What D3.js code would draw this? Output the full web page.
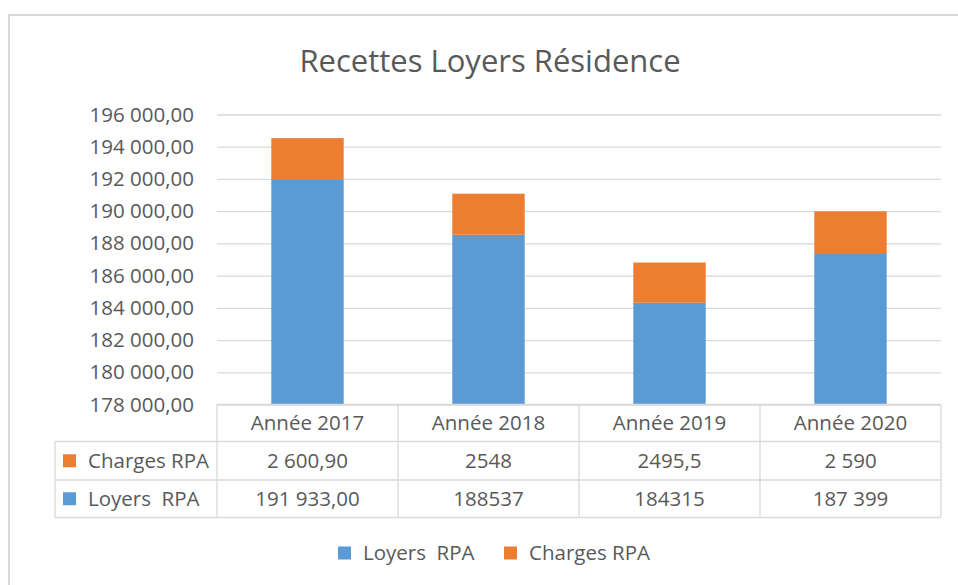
<!DOCTYPE html>
<html>
<head>
<meta charset="utf-8">
<script src="https://cdn.jsdelivr.net/npm/d3@7"></script>
<style>
  body { margin: 0; background: #fff; }
  text { font-family: "Open Sans", Calibri, sans-serif; fill: #595959; }
</style>
</head>
<body>
<div id="chart"></div>
<script>
// data
var categories = ['Année 2017', 'Année 2018', 'Année 2019', 'Année 2020'];
var loyers = [191933, 188537, 184315, 187399];
var charges = [2600.9, 2548, 2495.5, 2590];
var loyersLabels = ['191 933,00', '188537', '184315', '187 399'];
var chargesLabels = ['2 600,90', '2548', '2495,5', '2 590'];
var yTicks = [178000, 180000, 182000, 184000, 186000, 188000, 190000, 192000, 194000, 196000];
var seriesNames = ['Loyers  RPA', 'Charges RPA'];
var colors = ['#5B9BD5', '#ED7D31'];

var W = 958, H = 585;
var fs = '20.5px';
var svg = d3.select('#chart').append('svg')
  .attr('width', W).attr('height', H);

// outer frame (cropped chart area)
svg.append('path')
  .attr('d', 'M9,' + H + 'V15H' + W)
  .attr('fill', 'none').attr('stroke', '#d9d9d9').attr('stroke-width', 2);

svg.append('text')
  .attr('x', 490).attr('y', 72)
  .attr('text-anchor', 'middle')
  .style('font-size', '31px')
  .text('Recettes Loyers Résidence');

var x = d3.scaleBand().domain(categories).range([217, 941]).padding(0);
var y = d3.scaleLinear().domain([178000, 196000]).range([404.5, 114.5]);
var barW = x.bandwidth() * 0.4;

// y axis: gridlines + labels
var yAxis = d3.axisLeft(y).tickValues(yTicks)
  .tickSize(-(941 - 217))
  .tickPadding(23)
  .tickFormat(function(d) { return d3.format(',.2f')(d).replace(/,/g, ' ').replace('.', ','); });

var gy = svg.append('g').attr('transform', 'translate(217,0)').call(yAxis);
gy.select('.domain').remove();
gy.selectAll('.tick line').attr('stroke', '#d9d9d9').attr('stroke-width', 1.3);
gy.selectAll('.tick text').style('font-size', fs).attr('fill', '#595959');

// stacked bars
var stackData = categories.map(function(c, i) { return {cat: c, loyers: loyers[i], charges: charges[i]}; });
var stack = d3.stack().keys(['loyers', 'charges'])(stackData);

svg.append('g').selectAll('g').data(stack).enter()
  .append('g').attr('fill', function(d, i) { return colors[i]; })
  .selectAll('rect').data(function(d) { return d; }).enter()
  .append('rect')
  .attr('x', function(d) { return x(d.data.cat) + (x.bandwidth() - barW) / 2; })
  .attr('width', barW)
  .attr('y', function(d) { return y(d[1]); })
  .attr('height', function(d) { return y(Math.max(d[0], 178000)) - y(d[1]); });

// data table
var rowTop = [404.5, 441.5, 480], rowBot = 517.5, tableLeft = 55;
var grid = svg.append('g').attr('stroke', '#d9d9d9').attr('stroke-width', 1.3).attr('fill', 'none');
grid.append('line').attr('x1', 217).attr('x2', 941).attr('y1', rowTop[0]).attr('y2', rowTop[0]);
[rowTop[1], rowTop[2], rowBot].forEach(function(yy) {
  grid.append('line').attr('x1', tableLeft).attr('x2', 941).attr('y1', yy).attr('y2', yy);
});
grid.append('line').attr('x1', tableLeft).attr('x2', tableLeft).attr('y1', rowTop[1]).attr('y2', rowBot);
x.domain().forEach(function(c) {
  grid.append('line').attr('x1', x(c)).attr('x2', x(c)).attr('y1', rowTop[0]).attr('y2', rowBot);
});
grid.append('line').attr('x1', 941).attr('x2', 941).attr('y1', rowTop[0]).attr('y2', rowBot);

var mid = function(a, b) { return (a + b) / 2; };
svg.append('g').selectAll('text').data(categories).enter()
  .append('text')
  .attr('x', function(d) { return x(d) + x.bandwidth() / 2; })
  .attr('y', mid(rowTop[0], rowTop[1]) + 7)
  .attr('text-anchor', 'middle').style('font-size', fs)
  .text(function(d) { return d; });

var rows = [
  {name: seriesNames[1], color: colors[1], labels: chargesLabels, top: rowTop[1], bot: rowTop[2]},
  {name: seriesNames[0], color: colors[0], labels: loyersLabels, top: rowTop[2], bot: rowBot}
];
rows.forEach(function(r) {
  var cy = mid(r.top, r.bot);
  svg.append('rect').attr('x', 63).attr('y', cy - 6.5).attr('width', 13).attr('height', 13).attr('fill', r.color);
  svg.append('text').attr('x', 88).attr('y', cy + 7)
    .style('white-space', 'pre').style('font-size', fs)
    .text(r.name);
  svg.append('g').selectAll('text').data(r.labels).enter()
    .append('text')
    .attr('x', function(d, i) { return x(categories[i]) + x.bandwidth() / 2; })
    .attr('y', cy + 7)
    .attr('text-anchor', 'middle').style('font-size', fs)
    .text(function(d) { return d; });
});

// legend
var legend = [{name: seriesNames[0], color: colors[0], x: 338}, {name: seriesNames[1], color: colors[1], x: 504}];
var lg = svg.append('g').selectAll('g').data(legend).enter()
  .append('g').attr('transform', function(d) { return 'translate(' + d.x + ',553)'; });
lg.append('rect').attr('x', 0).attr('y', -6.5).attr('width', 13).attr('height', 13)
  .attr('fill', function(d) { return d.color; });
lg.append('text').attr('x', 25).attr('y', 7)
  .style('white-space', 'pre').style('font-size', fs)
  .text(function(d) { return d.name; });
</script>
</body>
</html>
